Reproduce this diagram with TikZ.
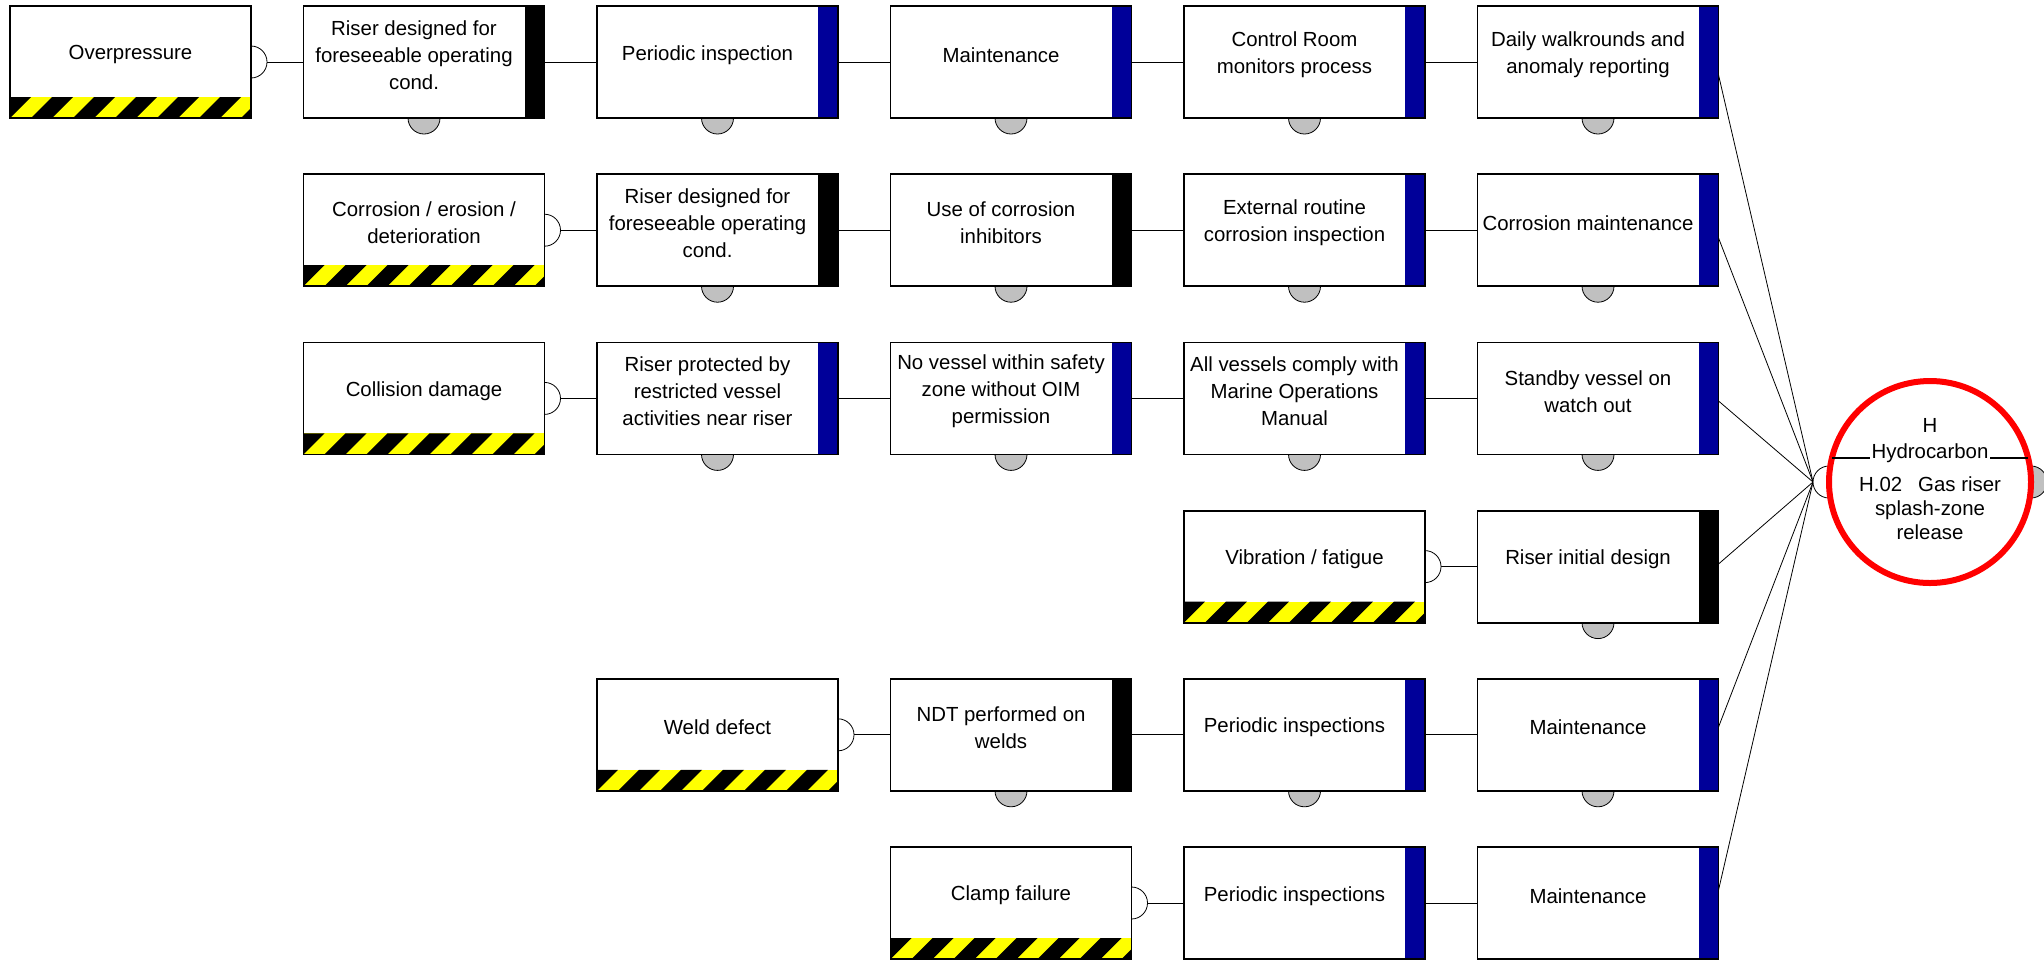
\documentclass[tikz,border=0pt]{standalone}
\usepackage{fontspec}
\setmainfont{Liberation Sans}
\definecolor{barblue}{RGB}{0,0,153}
\definecolor{hazyellow}{RGB}{255,255,0}
\definecolor{escgray}{RGB}{192,192,192}
\definecolor{topred}{RGB}{255,0,0}
\usetikzlibrary{
  backgrounds,
  positioning,
}
\newcommand{\boxfont}{\fontsize{10.2pt}{13.5pt}\selectfont}
\newcommand{\topfont}{\fontsize{10.2pt}{12pt}\selectfont}
\tikzset{
  box/.style={draw, rectangle, fill=white, minimum width=120.5pt,
    minimum height=56pt, inner sep=0pt, outer sep=0pt},
  boxtext/.style={align=center, font=\boxfont, inner sep=0pt},
  bartext/.style={boxtext, xshift=-5pt, yshift=3.6pt},
  threattext/.style={boxtext, yshift=3.8pt},
  barrier/.style={box, path picture={
      \fill[#1] ([xshift=-10pt]path picture bounding box.north east)
        rectangle (path picture bounding box.south east);}},
  threat/.style={box, path picture={
      \fill[hazyellow] (path picture bounding box.south west)
        rectangle ([yshift=10.5pt]path picture bounding box.south east);
      \foreach \k in {0,...,6}
        \fill[black] ([xshift=\k*21pt-10.5pt]path picture bounding box.south west)
          -- ++(10.5pt,0) -- ++(10.5pt,10.5pt) -- ++(-10.5pt,0) -- cycle;}},
  escal/.style={draw, fill=escgray},
  topevent/.style={draw=topred, line width=3pt, circle, fill=white,
    minimum size=101pt, inner sep=0pt, outer sep=0pt},
}

\begin{document}
\begin{tikzpicture}[node distance=28.1pt and 26.25pt, line width=0.9pt]
  \useasboundingbox (0,0) rectangle (1022pt,-480pt);

  % row 1
  \node[threat, label={[threattext]center:Overpressure}]
    (t1) at (5pt,-3pt) [anchor=north west] {};
  \node[barrier=black, label={[bartext]center:Riser designed for\\foreseeable operating\\cond.}]
    (b11) [right=of t1] {};
  \node[barrier=barblue, label={[bartext]center:Periodic inspection}]
    (b12) [right=of b11] {};
  \node[barrier=barblue, label={[bartext]center:Maintenance}]
    (b13) [right=of b12] {};
  \node[barrier=barblue, label={[bartext]center:Control Room\\monitors process}]
    (b14) [right=of b13] {};
  \node[barrier=barblue, label={[bartext]center:Daily walkrounds and\\anomaly reporting}]
    (b15) [right=of b14] {};

  % row 2
  \node[threat, label={[threattext]center:Corrosion / erosion /\\deterioration}]
    (t2) [below=of b11] {};
  \node[barrier=black, label={[bartext]center:Riser designed for\\foreseeable operating\\cond.}]
    (b21) [right=of t2] {};
  \node[barrier=black, label={[bartext]center:Use of corrosion\\inhibitors}]
    (b22) [right=of b21] {};
  \node[barrier=barblue, label={[bartext]center:External routine\\corrosion inspection}]
    (b23) [right=of b22] {};
  \node[barrier=barblue, label={[bartext]center:Corrosion maintenance}]
    (b24) [right=of b23] {};

  % row 3
  \node[threat, label={[threattext]center:Collision damage}]
    (t3) [below=of t2] {};
  \node[barrier=barblue, label={[bartext]center:Riser protected by\\restricted vessel\\activities near riser}]
    (b31) [right=of t3] {};
  \node[barrier=barblue, label={[bartext]center:No vessel within safety\\zone without OIM\\permission}]
    (b32) [right=of b31] {};
  \node[barrier=barblue, label={[bartext]center:All vessels comply with\\Marine Operations\\Manual}]
    (b33) [right=of b32] {};
  \node[barrier=barblue, label={[bartext]center:Standby vessel on\\watch out}]
    (b34) [right=of b33] {};

  % row 4
  \node[threat, label={[threattext]center:Vibration / fatigue}]
    (t4) [below=of b33] {};
  \node[barrier=black, label={[bartext]center:Riser initial design}]
    (b41) [right=of t4] {};

  % row 5
  \node[threat, label={[threattext]center:Weld defect}]
    (t5) [below=112.2pt of b31] {};
  \node[barrier=black, label={[bartext]center:NDT performed on\\welds}]
    (b51) [right=of t5] {};
  \node[barrier=barblue, label={[bartext]center:Periodic inspections}]
    (b52) [right=of b51] {};
  \node[barrier=barblue, label={[bartext]center:Maintenance}]
    (b53) [right=of b52] {};

  % row 6
  \node[threat, label={[threattext]center:Clamp failure}]
    (t6) [below=of b51] {};
  \node[barrier=barblue, label={[bartext]center:Periodic inspections}]
    (b61) [right=of t6] {};
  \node[barrier=barblue, label={[bartext]center:Maintenance}]
    (b62) [right=of b61] {};

  % top event
  \node[topevent] (top) at (965pt,-241pt) {};
  \coordinate (q) at ([xshift=-8pt]top.west);
  \draw ([shift={(-49pt,12pt)}]top.center) -- ([shift={(49pt,12pt)}]top.center);
  \node[font=\topfont, anchor=base, inner sep=0pt] (toph)
    at ([yshift=24.75pt]top.center) {H};
  \node[font=\topfont, anchor=base, fill=white, inner sep=1pt] (topcat)
    at ([yshift=12pt]top.center) {Hydrocarbon};
  \node[font=\topfont, align=center, inner sep=0pt] (topname)
    at ([yshift=-13.3pt]top.center) {H.02\hspace{8pt}Gas riser\\splash-zone\\release};

  \begin{scope}[on background layer]
    \draw (t1) -- (b11) -- (b12) -- (b13) -- (b14) -- (b15);
    \draw (t2) -- (b21) -- (b22) -- (b23) -- (b24);
    \draw (t3) -- (b31) -- (b32) -- (b33) -- (b34);
    \draw (t4) -- (b41);
    \draw (t5) -- (b51) -- (b52) -- (b53);
    \draw (t6) -- (b61) -- (b62);
    \foreach \b in {b15,b24,b34,b41,b53,b62}
      \draw ([xshift=-1.5pt]\b.east) -- (q);
    \foreach \t in {t1,t2,t3,t4,t5,t6}
      \draw[fill=white] ([yshift=8pt]\t.east) arc (90:-90:8pt);
    \foreach \b in {b11,b12,b13,b14,b15,b21,b22,b23,b24,b31,b32,b33,b34,b41,b51,b52,b53}
      \draw[escal] ([xshift=-8pt]\b.south) arc (180:360:8pt);
    \draw[fill=white] ([yshift=8pt]top.west) arc (90:270:8pt);
    \draw[escal] ([yshift=8pt]top.east) arc (90:-90:8pt);
  \end{scope}
\end{tikzpicture}
\end{document}
